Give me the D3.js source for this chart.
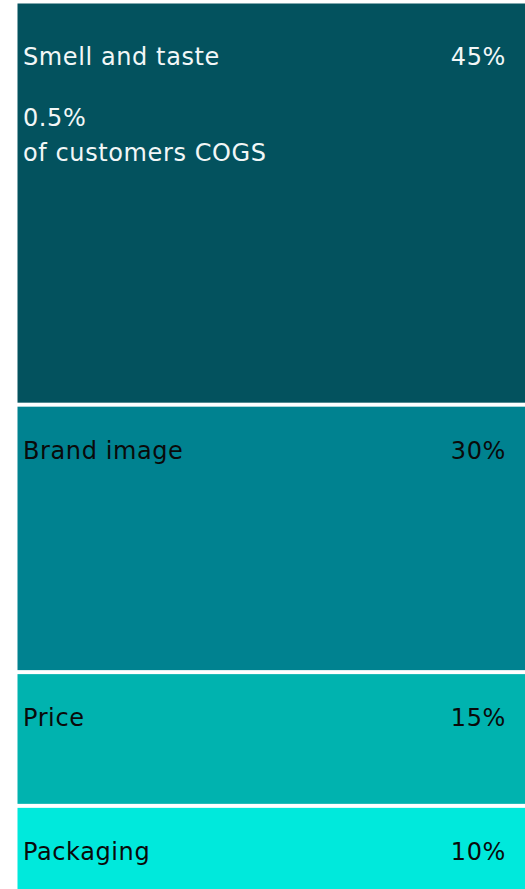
<!DOCTYPE html>
<html>
<head>
<meta charset="utf-8">
<script src="https://cdn.jsdelivr.net/npm/d3@7/dist/d3.min.js"></script>
<style>
  html, body { margin: 0; padding: 0; background: #ffffff; }
  svg { display: block; }
  text { font-family: "DejaVu Sans", Verdana, sans-serif; letter-spacing: 0.6px; }
</style>
</head>
<body>
<svg id="chart" width="525" height="889"></svg>
<script>
// Purchase-decision drivers, share of importance (%)
const categories = ["Smell and taste", "Brand image", "Price", "Packaging"];
const shares = [45, 30, 15, 10];
const shareLabels = ["45%", "30%", "15%", "10%"];
const notes = [["0.5%", "of customers COGS"], [], [], []];
const colors = ["#03525E", "#008290", "#00B3AF", "#00E9DC"];
const textColors = ["#F2F7F7", "#0A0A0A", "#0A0A0A", "#0A0A0A"];

const W = 525, H = 889;
const left = 17.5, right = W;
const gap = 4;

const svg = d3.select("#chart");

// vertical scale of cumulative share
const y = d3.scaleLinear().domain([0, 100]).range([3.5, 895]);

const cum = d3.cumsum(shares);
const blocks = categories.map((c, i) => ({
  name: c,
  value: shares[i],
  label: shareLabels[i],
  note: notes[i],
  color: colors[i],
  textColor: textColors[i],
  start: i === 0 ? 0 : cum[i - 1],
  end: cum[i],
  i
}));

const g = svg.selectAll("g.block").data(blocks).join("g").attr("class", "block");

g.append("rect")
  .attr("x", left)
  .attr("y", d => y(d.start) + (d.i === 0 ? 0 : gap / 2))
  .attr("width", right - left)
  .attr("height", d => y(d.end) - y(d.start) - (d.i === 0 ? gap / 2 : gap))
  .attr("fill", d => d.color);

const fontSize = 24;
const labelOffset = d => (d.i === 0 ? 61 : 54);

g.append("text")
  .attr("x", 23)
  .attr("y", d => y(d.start) + labelOffset(d))
  .attr("fill", d => d.textColor)
  .attr("font-size", fontSize)
  .text(d => d.name);

g.append("text")
  .attr("x", 506)
  .attr("y", d => y(d.start) + labelOffset(d))
  .attr("text-anchor", "end")
  .attr("fill", d => d.textColor)
  .attr("font-size", fontSize)
  .text(d => d.label);

g.each(function(d) {
  d3.select(this).selectAll("text.note")
    .data(d.note)
    .join("text")
    .attr("class", "note")
    .attr("x", 23)
    .attr("y", (t, j) => y(d.start) + 122 + j * 35)
    .attr("fill", d.textColor)
    .attr("font-size", fontSize)
    .text(t => t);
});
</script>
</body>
</html>
